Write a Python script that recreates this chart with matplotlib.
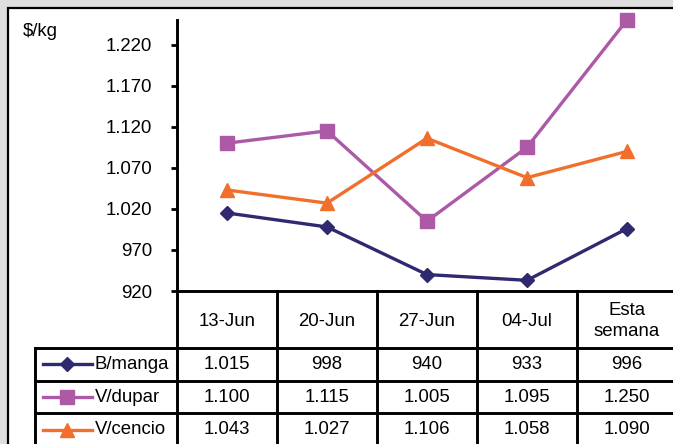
import matplotlib.pyplot as plt
from matplotlib.patches import Rectangle
from matplotlib.ticker import FuncFormatter

plt.rcParams['font.family'] = ['Liberation Sans', 'DejaVu Sans']

fechas = ['13-Jun', '20-Jun', '27-Jun', '04-Jul', 'Esta\nsemana']
series = ['B/manga', 'V/dupar', 'V/cencio']
b_manga = [1015, 998, 940, 933, 996]
v_dupar = [1100, 1115, 1005, 1095, 1250]
v_cencio = [1043, 1027, 1106, 1058, 1090]
valores = [b_manga, v_dupar, v_cencio]

colores = ['#2f2a70', '#ad5aa6', '#f26f2b']
marcas = ['D', 's', '^']
tamanos = [7, 10, 9.5]
fs = 13.4


def miles(v, pos=None):
    return f'{int(round(v)):,}'.replace(',', '.')


W, H = 673, 444
fig = plt.figure(figsize=(W / 100, H / 100), dpi=100)
fig.patch.set_facecolor('#dedede')
fig.add_artist(Rectangle((8 / W, -0.1), 1.0, 1.1 - 8 / H, transform=fig.transFigure,
                         facecolor='white', edgecolor='black', lw=1.6, zorder=0))

# grafico
ax = fig.add_axes([177 / W, (H - 291) / H, 500 / W, 271 / H])
ax.patch.set_alpha(0)
x = range(len(fechas))
for vals, c, m, ms in zip(valores, colores, marcas, tamanos):
    ax.plot(x, vals, color=c, lw=2.4, marker=m, ms=ms, mfc=c, mec=c, clip_on=False, zorder=3)

ax.set_xlim(-0.5, 4.5)
ax.set_ylim(920, 1250)
ax.set_yticks(range(920, 1221, 50))
ax.yaxis.set_major_formatter(FuncFormatter(miles))
ax.set_xticks([])
for s in ['top', 'right']:
    ax.spines[s].set_visible(False)
for s in ['left', 'bottom']:
    ax.spines[s].set_linewidth(2.1)
ax.tick_params(axis='y', length=4, width=2, pad=14, labelsize=fs)
fig.text(23 / W, 1 - 31 / H, '$/kg', fontsize=fs, va='center', ha='left')

# tabla de datos
tab = fig.add_axes([35 / W, 0, 642 / W, 153 / H])
tab.set_xlim(-1.92, 4.5)
tab.set_ylim(444, 291)
tab.axis('off')
y_filas = [348, 380.7, 413.4, 446]
lk = dict(color='black', lw=2.1, clip_on=False, solid_capstyle='projecting')
for i in range(len(fechas) + 1):
    tab.plot([i - 0.5, i - 0.5], [291, 450], **lk)
tab.plot([-1.92, -1.92], [348, 450], **lk)
for yy in y_filas:
    tab.plot([-1.92, 4.5], [yy, yy], **lk)

for i, f in enumerate(fechas):
    tab.text(i, 321, f, ha='center', va='center', fontsize=fs, linespacing=1.25)

for r, (nombre, vals, c, m, ms) in enumerate(zip(series, valores, colores, marcas, tamanos)):
    yc = (y_filas[r] + y_filas[r + 1]) / 2
    tab.plot([-1.84, -1.35], [yc, yc], color=c, lw=2.4, clip_on=False)
    tab.plot([-1.595], [yc], marker=m, ms=ms, color=c, clip_on=False)
    tab.text(-1.32, yc, nombre, ha='left', va='center', fontsize=fs)
    for i, v in enumerate(vals):
        tab.text(i, yc, miles(v), ha='center', va='center', fontsize=fs)

fig.savefig('out.png', dpi=100, facecolor=fig.get_facecolor())
